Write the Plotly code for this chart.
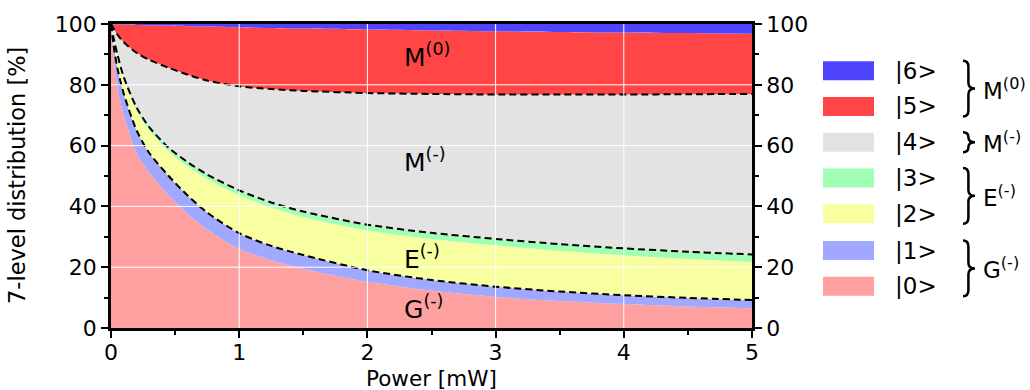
import numpy as np
import plotly.graph_objects as go

# ---------------- data ----------------
power = [0, 0.02, 0.05, 0.1, 0.2, 0.3, 0.45, 0.6, 0.75, 1.0, 1.25, 1.5,
         2.0, 2.5, 3.0, 3.5, 4.0, 4.5, 5.0]

level0 = [100, 89, 79, 70, 57.5, 51, 43.5, 37.5, 32.5, 26, 22.3, 19.5,
          15.2, 12.3, 10.2, 8.9, 7.9, 7.1, 6.5]
level1 = [0, 4, 6.5, 7, 7.5, 6.5, 6.5, 6, 5.5, 5.2, 4.7, 4.5,
          3.8, 3.5, 3.4, 3.1, 2.9, 2.8, 2.7]
level2 = [0, 2.4, 4.2, 5.0, 6.7, 7.5, 8.1, 9.6, 11.0, 12.5, 12.6, 12.5,
          13.1, 13.5, 13.6, 13.4, 13.1, 12.8, 12.5]
level3 = [0, 0.1, 0.3, 0.5, 0.8, 1.0, 1.2, 1.4, 1.5, 1.6, 1.7, 1.8,
          1.9, 2.0, 2.1, 2.2, 2.3, 2.4, 2.5]
level4 = [0, 3, 6.5, 11.5, 18, 22.2, 26.3, 28.8, 30.9, 34.2, 37.3, 39.7,
          43.3, 45.7, 47.5, 49.2, 50.6, 51.8, 52.8]
level5 = [0, 1.45, 3.4, 5.8, 9.2, 11.4, 13.9, 16.0, 17.8, 19.4, 20.1, 20.5,
          20.9, 20.9, 20.8, 20.6, 20.4, 20.1, 19.8]
level6 = [0, 0.05, 0.1, 0.2, 0.3, 0.4, 0.5, 0.7, 0.8, 1.1, 1.3, 1.5,
          1.8, 2.1, 2.4, 2.6, 2.8, 3.0, 3.2]

levels = [level0, level1, level2, level3, level4, level5, level6]
level_names = ["|0>", "|1>", "|2>", "|3>", "|4>", "|5>", "|6>"]
colors = ["#ffa0a0", "#a0a8ff", "#f8ffa0", "#a0ffb4", "#e3e3e3", "#ff4545", "#5045ff"]

x_ticks = [0, 1, 2, 3, 4, 5]
y_ticks = [0, 20, 40, 60, 80, 100]

groups = [  # (label, top level index, bottom level index)
    ("M<sup>(0)</sup>", 6, 5),
    ("M<sup>(-)</sup>", 4, 4),
    ("E<sup>(-)</sup>", 3, 2),
    ("G<sup>(-)</sup>", 1, 0),
]
region_labels = ["M<sup>(0)</sup>", "M<sup>(-)</sup>", "E<sup>(-)</sup>", "G<sup>(-)</sup>"]
region_label_y = [89.6, 55.0, 23.3, 6.9]
region_label_x = 2.27

# ---------------- figure ----------------
FONT = "DejaVu Sans"
W, H = 1030, 390
L, R, T, B = 111, 278, 22, 62
PW, PH = W - L - R, H - T - B

def px2paper(px, py):
    return (px - L) / PW, (T + PH - py) / PH

fig = go.Figure()
SHAPE = "spline"
SMOOTH = 0.8
for vals, name, col in zip(levels, level_names, colors):
    fig.add_trace(go.Scatter(
        x=power, y=vals, name=name, stackgroup="pop", mode="lines",
        line=dict(width=0, shape=SHAPE, smoothing=SMOOTH),
        fillcolor=col, showlegend=False, hoverinfo="skip"))

cum = np.cumsum(np.array(levels, dtype=float), axis=0)
for idx in [1, 3, 4]:
    fig.add_trace(go.Scatter(
        x=power, y=cum[idx], mode="lines",
        line=dict(color="black", width=2, dash="7px,4px", shape=SHAPE, smoothing=SMOOTH),
        showlegend=False, hoverinfo="skip"))

# invisible trace for the right axis
fig.add_trace(go.Scatter(x=[0], y=[0], yaxis="y2", mode="markers",
                         marker=dict(opacity=0), showlegend=False, hoverinfo="skip"))

shapes = []
# white grid on top of the areas
for xv in x_ticks[1:-1]:
    shapes.append(dict(type="line", xref="x", yref="paper", x0=xv, x1=xv, y0=0, y1=1,
                       line=dict(color="white", width=1), layer="above"))
for yv in y_ticks[1:-1]:
    shapes.append(dict(type="line", xref="paper", yref="y", x0=0, x1=1, y0=yv, y1=yv,
                       line=dict(color="white", width=1), layer="above"))

annotations = []
for txt, yv in zip(region_labels, region_label_y):
    annotations.append(dict(x=region_label_x, y=yv, xref="x", yref="y", text=txt,
                            showarrow=False, xanchor="left", yanchor="middle",
                            font=dict(family=FONT, size=25, color="black")))

# custom legend
row_py = [286, 250, 213, 177, 141, 105, 69]  # level 0..6
for i in range(7):
    x0, y0 = px2paper(823, row_py[i] + 9.5)
    x1, y1 = px2paper(874, row_py[i] - 9.5)
    shapes.append(dict(type="rect", xref="paper", yref="paper", x0=x0, x1=x1, y0=y0, y1=y1,
                       fillcolor=colors[i], line=dict(width=0), layer="above"))
    lx, ly = px2paper(893, row_py[i])
    annotations.append(dict(x=lx, y=ly, xref="paper", yref="paper", text=level_names[i],
                            showarrow=False, xanchor="left", yanchor="middle",
                            font=dict(family=FONT, size=23, color="black")))

def brace_path(x0, yT, yB, w):
    xm = x0 + w * 0.45
    tip = x0 + w
    ym = (yT + yB) / 2
    r = min(6.0, (yB - yT) / 4)
    pts = [("M", [(x0, yT)]),
           ("Q", [(xm, yT), (xm, yT + r)]),
           ("L", [(xm, ym - r)]),
           ("Q", [(xm, ym), (tip, ym)]),
           ("Q", [(xm, ym), (xm, ym + r)]),
           ("L", [(xm, yB - r)]),
           ("Q", [(xm, yB), (x0, yB)])]
    s = ""
    for cmd, plist in pts:
        s += cmd + " ".join("%.5f,%.5f" % px2paper(a, b) for a, b in plist) + " "
    return s.strip()

for txt, top, bot in groups:
    yT = row_py[top] - 10
    yB = row_py[bot] + 10
    shapes.append(dict(type="path", xref="paper", yref="paper",
                       path=brace_path(963, yT, yB, 12),
                       line=dict(color="black", width=2.5), layer="above"))
    gx, gy = px2paper(981, (row_py[top] + row_py[bot]) / 2)
    annotations.append(dict(x=gx, y=gy, xref="paper", yref="paper", text=txt,
                            showarrow=False, xanchor="left", yanchor="middle",
                            font=dict(family=FONT, size=23, color="black")))

# axis titles
tx, ty = px2paper(L + PW / 2, 379)
annotations.append(dict(x=0.5, y=ty, xref="paper", yref="paper", text="Power [mW]",
                        showarrow=False, xanchor="center", yanchor="middle",
                        font=dict(family=FONT, size=21.5, color="black")))
ax_, ay_ = px2paper(17, 176)
annotations.append(dict(x=ax_, y=0.5, xref="paper", yref="paper",
                        text="7-level distribution [%]", textangle=-90,
                        showarrow=False, xanchor="center", yanchor="middle",
                        font=dict(family=FONT, size=22.5, color="black")))

axis_common = dict(showgrid=False, zeroline=False, showline=True, linecolor="black",
                   linewidth=2.5, ticks="outside", ticklen=7, tickwidth=2,
                   tickcolor="black", tickfont=dict(family=FONT, size=22, color="black"))

fig.update_layout(
    width=W, height=H,
    margin=dict(l=L, r=R, t=T, b=B, pad=0),
    plot_bgcolor="white", paper_bgcolor="white",
    font=dict(family=FONT, size=22, color="black"),
    xaxis=dict(range=[0, 5], tickvals=x_ticks, mirror=True, ticklabelstandoff=-4,
               minor=dict(ticks="outside", dtick=0.5, ticklen=4, tickwidth=1.5,
                          tickcolor="black", showgrid=False),
               **axis_common),
    yaxis=dict(range=[0, 100], tickvals=y_ticks, mirror=True,
               minor=dict(ticks="outside", dtick=10, ticklen=4, tickwidth=1.5,
                          tickcolor="black", showgrid=False),
               **axis_common),
    yaxis2=dict(range=[0, 100], tickvals=y_ticks, overlaying="y", side="right",
                anchor="x",
                minor=dict(ticks="outside", dtick=10, ticklen=4, tickwidth=1.5,
                           tickcolor="black", showgrid=False),
                **axis_common),
    shapes=shapes,
    annotations=annotations,
    showlegend=False,
)

fig.write_html("out.html")
